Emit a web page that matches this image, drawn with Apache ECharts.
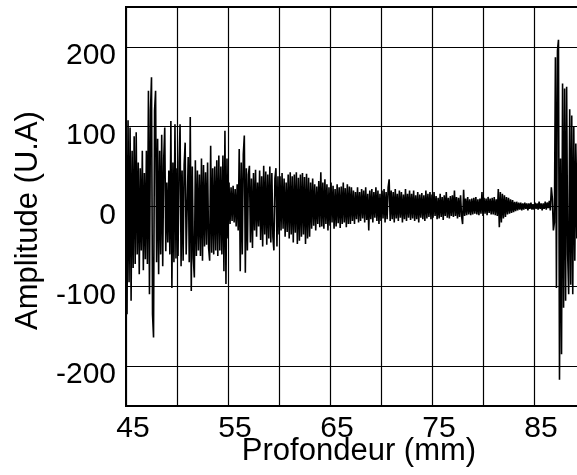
<!DOCTYPE html>
<html><head><meta charset="utf-8">
<script src="https://cdn.jsdelivr.net/npm/echarts@6/dist/echarts.min.js"></script>
<style>html,body{margin:0;padding:0;background:#fff}#c{width:577px;height:475px}</style>
</head><body><div id="c"></div>
<script>
// Depth (mm) of the first sample and spacing between samples
const depthStart = 45;
const depthStep = 0.1;

// Amplitude samples (U.A), 10 per mm
const amp45to55 = [
  124,-135,108,-95,99,-118,70,-77,88,-72,
  93,-60,55,-85,48,-55,70,-80,42,-66,
  70,-72,145,-110,120,162,-135,-164,120,145,
  -70,85,-85,70,-60,90,-75,60,99,-56,
  30,-45,45,-60,107,-102,55,-70,103,-65,
  48,-62,55,103,-75,45,-68,52,80,-60,
  -58,62,-70,112,-106,50,-65,-89,58,-62,
  45,-55,40,-62,60,-68,52,-50,43,-48,
  55,-52,-68,76,-58,48,-60,50,-55,58,
  -62,64,-55,50,-60,64,-81,95,-97,60
];
const amp55to65 = [
  -40,30,-22,24,-18,26,-20,22,-25,28,
  -30,72,-81,55,-60,65,89,-83,48,-55,
  40,51,-45,35,-52,42,-30,46,-38,30,
  -25,45,-42,38,-50,51,-35,44,-48,40,
  -40,50,-45,42,-38,-55,35,48,-50,38,
  -35,38,-30,42,-28,35,-38,30,-32,40,
  -40,43,-35,38,-45,40,-33,43,-47,36,
  -43,40,-38,42,-35,37,-47,41,-40,36,
  -38,30,-28,35,-24,28,-30,25,-22,32,
  -26,43,-25,30,-28,34,-22,28,-30,24
];
const amp65to75 = [
  -24,30,-20,26,-28,22,-25,28,-21,24,
  -27,25,-22,30,-20,23,-26,28,-22,25,
  -22,24,-18,20,-22,18,-16,24,-20,18,
  -18,22,-15,20,-20,24,-17,16,-30,20,
  -16,22,-20,18,-14,24,-18,20,-22,16,
  -18,20,-15,22,-20,18,-16,24,34,-18,
  20,-16,18,-20,22,-15,16,-18,20,-14,
  18,-20,15,-16,22,-18,16,-14,20,-17,
  16,-15,20,-18,14,-16,18,-20,15,-14,
  17,-16,14,-18,20,-15,16,-13,18,-16
];
const amp75to89 = [
  15,-14,18,-12,13,-16,11,-15,16,-13,
  12,-17,14,-12,18,-14,11,-15,13,-12,
  14,-13,20,-12,12,-15,11,-13,14,-12,
  -22,21,-12,10,-11,12,-10,9,-11,10,
  -10,11,-9,12,-10,9,-11,10,-9,18,
  -12,11,-9,10,-11,12,-8,10,-10,11,
  -10,12,-11,9,-12,22,-26,18,-20,16,
  -15,14,-13,12,-10,11,-9,9,-8,8,
  -7,6,-6,6,-5,5,-4,5,-5,4,
  -4,5,-3,4,-5,4,-3,5,-4,3,
  -4,5,-3,4,-4,6,-3,4,-5,4,
  -3,6,-4,5,-2,7,-5,24,10,-30,
  -20,187,-102,195,209,-217,60,-185,154,-127,
  148,-118,150,-60,-110,122,-98,114,-110,100,
  -68,79,-40,79
];

const xTickLabels = [45, 55, 65, 75, 85];
const yTickLabels = [-200, -100, 0, 100, 200];

const amplitude = [].concat(amp45to55, amp55to65, amp65to75, amp75to89);
const seriesData = amplitude.map((v, i) => [+(depthStart + i * depthStep).toFixed(2), v]);

const FONT = '"Liberation Sans", Arial, Helvetica, sans-serif';
const chart = echarts.init(document.getElementById('c'), null, {renderer: 'canvas'});
chart.setOption({
  animation: false,
  backgroundColor: '#fff',
  grid: {left: 126, top: 7, bottom: 69, right: -8, outerBoundsMode: 'none', containLabel: false,
    show: true, borderColor: '#000', borderWidth: 2, backgroundColor: 'transparent'},
  xAxis: {
    type: 'value', min: 45, max: 90, interval: 5,
    name: 'Profondeur (mm)', nameLocation: 'middle', nameGap: 30, nameMoveOverlap: false,
    nameTextStyle: {fontFamily: FONT, fontSize: 31, color: '#000', padding: [0, 0, 0, 7]},
    axisLine: {show: true, onZero: false, lineStyle: {color: '#000', width: 2}},
    axisTick: {show: false},
    axisLabel: {
      margin: 8, fontFamily: FONT, fontSize: 30, color: '#000', padding: [0, 0, 0, 14],
      showMaxLabel: false,
      formatter: v => xTickLabels.includes(Math.round(v)) ? String(Math.round(v)) : ''
    },
    splitLine: {show: true, lineStyle: {color: '#000', width: 1.2}}
  },
  yAxis: {
    type: 'value', min: -250, max: 250, interval: 50,
    name: 'Amplitude (U.A)', nameLocation: 'middle', nameGap: 82,
    nameTextStyle: {fontFamily: FONT, fontSize: 31, color: '#000', padding: [0, 28, 0, 0]},
    axisLine: {show: true, onZero: false, lineStyle: {color: '#000', width: 2}},
    axisTick: {show: false},
    axisLabel: {
      margin: 10, fontFamily: FONT, fontSize: 30, color: '#000',
      verticalAlign: 'top', lineHeight: 18,
      formatter: v => yTickLabels.includes(Math.round(v)) ? String(Math.round(v)) : ''
    },
    splitLine: {show: true, showMinLine: true, showMaxLine: true,
      lineStyle: {color: ['rgba(0,0,0,0)', '#000'], width: 1.2}}
  },
  series: [{
    type: 'line', data: seriesData, showSymbol: false, symbol: 'none',
    lineStyle: {color: '#000', width: 1.6}, clip: true, z: 3
  }]
});
</script></body></html>
